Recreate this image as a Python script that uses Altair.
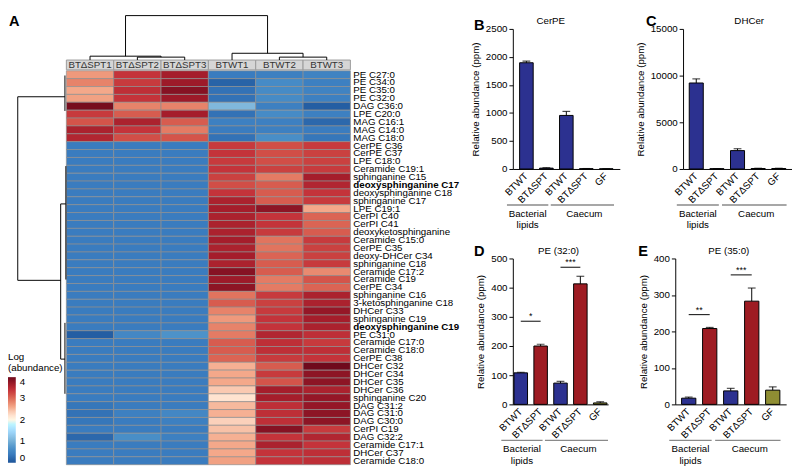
import altair as alt
import pandas as pd

FONT = "Liberation Sans"

# ---------------- Heatmap data ----------------
samples = ["BTΔSPT1", "BTΔSPT2", "BTΔSPT3", "BTWT1", "BTWT2", "BTWT3"]
lipids = [
    "PE C27:0", "PE C34:0", "PE C35:0", "PE C32:0", "DAG C36:0", "LPE C20:0",
    "MAG C16:1", "MAG C14:0", "MAG C18:0", "CerPE C36", "CerPE C37", "LPE C18:0",
    "Ceramide C19:1", "sphinganine C15", "deoxysphinganine C17", "deoxysphinganine C18",
    "sphinganine C17", "LPE C19:1", "CerPI C40", "CerPI C41", "deoxyketosphinganine",
    "Ceramide C15:0", "CerPE C35", "deoxy-DHCer C34", "sphinganine C18", "Ceramide C17:2",
    "Ceramide C19", "CerPE C34", "sphinganine C16", "3-ketosphinganine C18", "DHCer C33",
    "sphinganine C19", "deoxysphinganine C19", "PE C31:0", "Ceramide C17:0", "Ceramide C18:0",
    "CerPE C38", "DHCer C32", "DHCer C34", "DHCer C35", "DHCer C36", "sphinganine C20",
    "DAG C31:2", "DAG C31:0", "DAG C30:0", "CerPI C19", "DAG C32:2", "Ceramide C17:1",
    "DHCer C37", "Ceramide C18:0",
]
bold_lipids = ["deoxysphinganine C17", "deoxysphinganine C19"]

spt1 = [2.7, 2.85, 2.6, 2.65, 3.95, 3.35, 3.15, 3.6, 3.55,
        0.4, 0.4, 0.4, 0.4, 0.4, 0.4, 0.4, 0.4, 0.4, 0.4, 0.4, 0.4, 0.4, 0.4, 0.4, 0.4,
        0.4, 0.4, 0.4, 0.4, 0.4, 0.4, 0.4, 0.4, 0.1, 0.4, 0.4, 0.4, 0.4, 0.4, 0.4, 0.4,
        0.4, 0.35, 0.3, 0.35, 0.4, 0.2, 0.4, 0.4, 0.4]
spt2 = [3.4, 3.35, 3.45, 3.4, 2.85, 3.1, 3.6, 3.4, 3.2,
        0.4, 0.4, 0.4, 0.4, 0.4, 0.4, 0.4, 0.4, 0.4, 0.4, 0.4, 0.4, 0.4, 0.4, 0.4, 0.4,
        0.4, 0.4, 0.4, 0.4, 0.4, 0.4, 0.4, 0.4, 0.55, 0.4, 0.4, 0.4, 0.4, 0.4, 0.4, 0.4,
        0.4, 0.4, 0.45, 0.4, 0.4, 0.65, 0.4, 0.4, 0.4]
spt3 = [3.65, 3.7, 3.85, 3.7, 2.85, 3.65, 3.1, 2.9, 3.15,
        0.4, 0.4, 0.4, 0.4, 0.4, 0.4, 0.4, 0.4, 0.4, 0.4, 0.4, 0.4, 0.4, 0.4, 0.4, 0.4,
        0.4, 0.4, 0.4, 0.4, 0.4, 0.4, 0.4, 0.4, 0.7, 0.4, 0.4, 0.4, 0.4, 0.4, 0.4, 0.4,
        0.4, 0.4, 0.55, 0.45, 0.4, 0.45, 0.4, 0.4, 0.4]
wt1 = [0.4, 0.15, 0.3, 0.3, 1.1, 0.3, 0.45, 0.4, 0.3,
       3.35, 3.4, 3.35, 3.4, 3.3, 3.2, 3.4, 3.6, 3.65, 3.6, 3.6, 3.6, 3.65, 3.6, 3.65, 3.6,
       3.85, 3.7, 3.8, 2.95, 3.1, 2.85, 2.7, 2.85, 2.9, 3.1, 3.1, 3.05, 2.55, 2.6, 2.6, 2.4,
       2.2, 2.5, 2.55, 2.35, 2.45, 2.55, 2.6, 2.6, 2.65]
wt2 = [0.45, 0.6, 0.6, 0.6, 0.45, 0.6, 0.45, 0.45, 0.65,
       3.2, 3.2, 3.2, 3.3, 2.9, 3.1, 3.1, 3.1, 3.8, 3.4, 3.4, 3.35, 2.95, 2.95, 3.05, 3.1,
       3.1, 2.9, 2.9, 3.35, 3.3, 3.35, 3.4, 3.4, 3.55, 3.45, 3.45, 3.35, 3.1, 3.35, 3.15, 3.65,
       3.65, 3.45, 3.45, 3.45, 3.85, 3.4, 3.6, 3.4, 3.4]
wt3 = [0.5, 0.45, 0.5, 0.45, 0.1, 0.45, 0.2, 0.4, 0.35,
       3.35, 3.3, 3.3, 3.35, 3.65, 3.55, 3.4, 3.35, 2.6, 3.05, 3.05, 3.1, 3.35, 3.3, 3.3, 3.35,
       2.8, 3.15, 3.05, 3.6, 3.6, 3.75, 3.65, 3.6, 3.45, 3.35, 3.45, 3.4, 4.0, 3.8, 3.8, 3.6,
       3.75, 3.75, 3.8, 3.8, 3.35, 3.55, 3.4, 3.45, 3.45]

hm_stops = [0, 0.4, 0.7, 1.1, 2.0, 2.3, 2.6, 2.9, 3.15, 3.4, 3.65, 4.0]
hm_colors = ["#1d5499", "#3a7cbf", "#4d92c9", "#80b8dc", "#ffffff", "#fcd9c6",
             "#f4a88a", "#e47b64", "#d4544a", "#c4333a", "#a51d2b", "#6f0a1c"]

# dendrogram segments (x in column units, y in row units; negative = outside cells)
col_dend = [
    (1.5, -1.36, 1.5, -1.73), (2.5, -1.36, 2.5, -1.73), (1.5, -1.73, 2.5, -1.73),
    (0.5, -1.36, 0.5, -1.85), (2.0, -1.73, 2.0, -1.85), (0.5, -1.85, 2.0, -1.85),
    (4.5, -1.36, 4.5, -1.73), (5.5, -1.36, 5.5, -1.73), (4.5, -1.73, 5.5, -1.73),
    (3.5, -1.36, 3.5, -2.22), (5.0, -1.73, 5.0, -2.22), (3.5, -2.22, 5.0, -2.22),
    (1.25, -1.85, 1.25, -7.0), (4.25, -2.22, 4.25, -7.0), (1.25, -7.0, 4.25, -7.0),
]
row_dend = [
    (-1.027, 3.3, -1.027, 26.6), (-1.027, 3.3, -0.03, 3.3), (-1.027, 26.6, -0.12, 26.6),
    (-0.12, 16.9, -0.12, 36.6), (-0.12, 16.9, -0.01, 16.9), (-0.12, 36.6, -0.03, 36.6),
    (-0.03, 0.6, -0.03, 5.1), (-0.01, 12.1, -0.01, 26.5), (-0.03, 32.0, -0.03, 41.0),
]

# ---------------- Bar panel data ----------------
bar_cats = ["BTWT", "BTΔSPT", "BTWT ", "BTΔSPT ", "GF"]
bar_labels = ["BTWT", "BTΔSPT", "BTWT", "BTΔSPT", "GF"]
navy, red, olive = "#2c3190", "#9e1c23", "#8f8e33"
cerpe_vals = [1896, 15, 956, 5, 3]
cerpe_err = [28, 8, 72, 3, 2]
dhcer_vals = [9210, 30, 1970, 50, 50]
dhcer_err = [440, 10, 200, 30, 30]
pe32_vals = [108, 200, 73, 413, 5]
pe32_err = [2, 6, 6, 26, 4]
pe35_vals = [17, 208, 37, 283, 39]
pe35_err = [3, 3, 7, 36, 9]

# ---------------- Heatmap chart ----------------
COLW = 48.67
ROWH = 8.1
Y_TOP = -5.31
X_LEFT = -1.13
HM_W = round((6 - X_LEFT) * COLW)
HM_H = round((50 - Y_TOP) * ROWH)
xs = alt.Scale(domain=[X_LEFT, 6], nice=False, zero=False)
ys = alt.Scale(domain=[Y_TOP, 50], nice=False, zero=False, reverse=True)

cols = [spt1, spt2, spt3, wt1, wt2, wt3]
recs = []
for j, colvals in enumerate(cols):
    for i, v in enumerate(colvals):
        recs.append({"x": j, "x2": j + 1, "y": i, "y2": i + 1, "v": v})
hm_df = pd.DataFrame(recs)

cells = alt.Chart(hm_df).mark_rect(stroke="#8f8f8f", strokeWidth=0.7).encode(
    x=alt.X("x:Q", scale=xs, axis=None),
    x2="x2:Q",
    y=alt.Y("y:Q", scale=ys, axis=None),
    y2="y2:Q",
    color=alt.Color(
        "v:Q",
        scale=alt.Scale(domain=hm_stops, range=hm_colors),
        legend=alt.Legend(
            orient="none", legendX=-5, legendY=332, direction="vertical",
            title=["Log", "(abundance)"], titleFontSize=10, titleFontWeight="normal",
            titleColor="black", labelFontSize=10, labelColor="black",
            gradientLength=88, gradientThickness=8, values=[0, 1, 2, 3, 4],
            gradientStrokeWidth=0, titlePadding=4, labelOffset=4,
        ),
    ),
)

band_df = pd.DataFrame({"x": list(range(6)), "x2": [k + 1 for k in range(6)],
                        "xm": [k + 0.5 for k in range(6)], "s": samples,
                        "y": [-1.36] * 6, "y2": [-0.12] * 6, "ym": [-0.74] * 6})
band = alt.Chart(band_df).mark_rect(fill="#d6d6d6", stroke="#9a9a9a", strokeWidth=1).encode(
    x=alt.X("x:Q", scale=xs, axis=None), x2="x2:Q",
    y=alt.Y("y:Q", scale=ys, axis=None), y2="y2:Q")
band_txt = alt.Chart(band_df).mark_text(fontSize=10, color="#333333", baseline="middle").encode(
    x=alt.X("xm:Q", scale=xs, axis=None), y=alt.Y("ym:Q", scale=ys, axis=None), text="s:N")

lab_df = pd.DataFrame({"lab": lipids, "y": [i + 0.5 for i in range(len(lipids))],
                       "x": [6] * len(lipids),
                       "b": [l in bold_lipids for l in lipids]})
labs_n = alt.Chart(lab_df[~lab_df["b"]]).mark_text(
    fontSize=10, align="left", baseline="middle", dx=3, color="black").encode(
    x=alt.X("x:Q", scale=xs, axis=None), y=alt.Y("y:Q", scale=ys, axis=None), text="lab:N")
labs_b = alt.Chart(lab_df[lab_df["b"]]).mark_text(
    fontSize=10, align="left", baseline="middle", dx=3, color="black", fontWeight="bold").encode(
    x=alt.X("x:Q", scale=xs, axis=None), y=alt.Y("y:Q", scale=ys, axis=None), text="lab:N")

dend_df = pd.DataFrame(col_dend + row_dend, columns=["x", "y", "x2", "y2"])
dend = alt.Chart(dend_df).mark_rule(color="black", strokeWidth=1).encode(
    x=alt.X("x:Q", scale=xs, axis=None), x2="x2:Q",
    y=alt.Y("y:Q", scale=ys, axis=None), y2="y2:Q")

letterA = alt.Chart(pd.DataFrame({"t": ["A"]})).mark_text(
    fontSize=15, fontWeight="bold", align="left", baseline="middle").encode(
    x=alt.value(-4), y=alt.value(-8), text="t:N")

heat = alt.layer(cells, band, band_txt, labs_n, labs_b, dend, letterA).properties(
    width=HM_W, height=HM_H)


# ---------------- Bar panels ----------------
def bar_panel(letter, title, vals, errs, colors, ymax, ystep, width, height,
              p_in, p_out, sig=None, title_dx=0, letter_x=-40, letter_y=-4, title_y=-8):
    step = width / (5 - p_in + 2 * p_out)
    df = pd.DataFrame({"cat": bar_cats, "lab": bar_labels, "v": vals, "e": errs, "c": colors})
    df["top"] = df["v"] + df["e"]
    xscale = alt.Scale(domain=bar_cats, paddingInner=p_in, paddingOuter=p_out)
    xaxis = alt.Axis(title=None, labels=False, ticks=False,
                     domainColor="black", domainWidth=1)
    xenc = alt.X("cat:N", scale=xscale, sort=bar_cats, axis=xaxis)
    yscale = alt.Scale(domain=[0, ymax], nice=False)
    yaxis = alt.Axis(
        title="Relative abundance (ppm)", values=list(range(0, ymax + 1, ystep)),
        format="d", grid=False, tickSize=4, tickColor="black", domainColor="black",
        labelColor="black", labelFontSize=10, titleFontSize=10, titleFontWeight="normal",
        titleColor="black", titlePadding=5, labelPadding=2, labelOverlap=False)
    yenc = alt.Y("v:Q", scale=yscale, axis=yaxis)
    ytop = alt.Y("top:Q", scale=yscale, axis=yaxis)
    base = alt.Chart(df)
    bars = base.mark_bar(stroke="black", strokeWidth=1).encode(
        x=xenc, y=yenc, fill=alt.Fill("c:N", scale=None))
    erule = base.mark_rule(color="black", strokeWidth=1).encode(
        x=xenc, y=yenc, y2="top:Q")
    caps = base.mark_tick(color="black", thickness=1.2, size=8, orient="horizontal").encode(
        x=xenc, y=ytop)
    xlabs = base.mark_text(fontSize=10, angle=315, align="right", baseline="middle",
                           color="black").encode(
        x=xenc, y=alt.value(height + 6), text="lab:N")

    g1 = alt.Chart(pd.DataFrame({"cat": ["BTWT"], "b": ["BTΔSPT"]})).mark_rule(
        color="#8a8a8a", strokeWidth=1.5, xOffset=-20, x2Offset=2).encode(
        x=xenc, x2="b:N", y=alt.value(height + 37))
    g2 = alt.Chart(pd.DataFrame({"cat": ["BTWT "], "b": ["GF"]})).mark_rule(
        color="#8a8a8a", strokeWidth=1.5, xOffset=-16, x2Offset=8).encode(
        x=xenc, x2="b:N", y=alt.value(height + 37))
    t1 = alt.Chart(pd.DataFrame({"cat": ["BTWT"], "t": ["Bacterial\nlipids"]})).mark_text(
        fontSize=10, lineBreak="\n", lineHeight=12, baseline="top", color="black",
        dx=step / 2 - 9).encode(x=xenc, y=alt.value(height + 41), text="t:N")
    t2 = alt.Chart(pd.DataFrame({"cat": ["BTΔSPT "], "t": ["Caecum"]})).mark_text(
        fontSize=10, baseline="top", color="black", dx=-2).encode(
        x=xenc, y=alt.value(height + 41), text="t:N")

    letter_m = alt.Chart(pd.DataFrame({"t": [letter]})).mark_text(
        fontSize=15, fontWeight="bold", align="left", baseline="middle").encode(
        x=alt.value(letter_x), y=alt.value(letter_y), text="t:N")
    title_m = alt.Chart(pd.DataFrame({"t": [title]})).mark_text(
        fontSize=10, baseline="middle", color="black").encode(
        x=alt.value(width / 2 + title_dx), y=alt.value(title_y), text="t:N")

    layers = [bars, erule, caps, xlabs, g1, g2, t1, t2, letter_m, title_m]
    if sig is not None:
        sdf = pd.DataFrame(sig, columns=["cat", "b", "v", "s"])
        srule = alt.Chart(sdf).mark_rule(color="black", strokeWidth=1).encode(
            x=xenc, x2="b:N", y=yenc)
        stxt = alt.Chart(sdf).mark_text(fontSize=9, color="black", dx=step / 2, dy=-5).encode(
            x=xenc, y=yenc, text="s:N")
        layers += [srule, stxt]
    return alt.layer(*layers).properties(width=width, height=height)


PH1 = 144
PH2 = 150
cB = [navy] * 5
cD = [navy, red, navy, red, olive]
B = bar_panel("B", "CerPE", cerpe_vals, cerpe_err, cB, 2500, 500, 110, PH1, 0.32, 0.34,
              title_dx=-16, letter_y=-4, title_y=-8)
C = bar_panel("C", "DHCer", dhcer_vals, dhcer_err, cB, 15000, 5000, 112, PH1, 0.32, 0.3,
              title_dx=12, letter_x=-38, letter_y=-8, title_y=-8)
D = bar_panel("D", "PE (32:0)", pe32_vals, pe32_err, cD, 500, 100, 98, PH2, 0.32, 0.06,
              sig=[("BTWT", "BTΔSPT", 285, "*"), ("BTWT ", "BTΔSPT ", 470, "***")],
              title_dx=-2, letter_y=-8, title_y=-8)
E = bar_panel("E", "PE (35:0)", pe35_vals, pe35_err, cD, 400, 100, 114, PH2, 0.32, 0.3,
              sig=[("BTWT", "BTΔSPT", 246, "**"), ("BTWT ", "BTΔSPT ", 355, "***")],
              title_dx=-2, letter_x=-38, letter_y=-8, title_y=-8)

top_row = alt.hconcat(B, C, spacing=16)
bot_row = alt.hconcat(D, E, spacing=30)
right = alt.vconcat(top_row, bot_row, spacing=14)

chart = alt.hconcat(heat, right, spacing=11).properties(padding=0).configure(
    font=FONT).configure_view(strokeWidth=0)

chart.save("out.html", embed_options={"renderer": "svg", "actions": False})
